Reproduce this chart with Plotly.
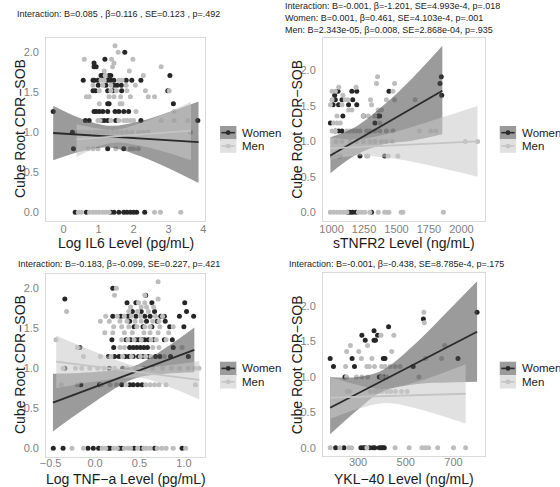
import plotly.graph_objects as go

# ---------------- data ----------------
# y levels are cube-root CDR-SOB values; each dict maps a y level -> list of x values
IL6_WOMEN = {
    2.0: [1.75], 1.913: [1.18], 1.866: [0.87], 1.817: [0.87, 0.93],
    1.71: [1.07, 1.12, 1.30, 1.35, 3.04],
    1.651: [0.56, 0.84, 0.88, 0.98, 1.26, 1.35, 1.44, 1.79, 1.95, 2.21],
    1.587: [0.99, 1.21, 1.44, 1.53, 1.65],
    1.518: [0.84, 0.91, 1.26, 1.41, 1.66, 2.98],
    1.357: [1.26, 1.30, 3.14],
    1.26: [-0.30, 0.87, 0.93, 1.02, 1.12, 1.26, 1.47, 1.58, 1.72, 1.86],
    1.145: [0.62, 0.73, 1.07, 1.16, 1.26, 1.49, 2.21, 3.84],
    1.0: [0.25],
    0.794: [0.28, 1.26, 1.72],
    0.0: [0.33, 0.65, 1.35, 1.44, 1.58, 1.72, 1.81, 1.91, 2.0, 2.09, 2.32],
}
IL6_MEN = {
    2.08: [1.47], 2.0: [1.56], 1.913: [0.59, 1.37, 1.98], 1.866: [1.44],
    1.817: [1.40, 2.79], 1.765: [1.16, 1.88], 1.71: [1.19, 2.28],
    1.651: [1.07, 1.16, 1.58, 1.67],
    1.587: [0.84, 1.12, 1.35, 1.79, 2.05],
    1.518: [1.02, 1.35, 1.51, 1.81, 2.34, 3.02],
    1.442: [0.65, 0.73, 1.30, 1.44, 1.63, 1.91, 2.42, 2.60],
    1.357: [1.02, 1.61, 1.67],
    1.26: [2.07, 3.16],
    1.145: [0.98, 1.04, 1.35, 1.58, 1.72, 1.81, 1.91, 2.0, 2.79, 3.16, 3.55],
    1.0: [0.40, 0.47, 0.56, 0.65, 0.74, 0.88, 0.98, 1.07, 1.16, 1.26, 1.40, 1.54,
          1.67, 1.81, 1.95, 2.14, 2.28, 2.42, 3.63],
    0.794: [0.70, 0.84, 0.98, 1.49, 1.91, 2.0, 2.14],
    0.0: [0.42, 0.51, 0.74, 0.84, 0.93, 1.02, 1.12, 1.21, 1.30, 2.60, 2.77, 3.35],
}
IL6_WOMEN_FIT_X = [-0.30, 3.86]
IL6_WOMEN_FIT_Y = [0.99, 0.875]
IL6_WOMEN_BAND_X = [-0.30, 0.5, 1.3, 2.2, 3.0, 3.86]
IL6_WOMEN_BAND_LO = [0.65, 0.76, 0.81, 0.70, 0.55, 0.365]
IL6_WOMEN_BAND_HI = [1.33, 1.17, 1.08, 1.14, 1.25, 1.385]
IL6_MEN_FIT_X = [0.37, 3.645]
IL6_MEN_FIT_Y = [0.91, 1.02]
IL6_MEN_BAND_X = [0.37, 1.0, 1.5, 2.3, 3.0, 3.645]
IL6_MEN_BAND_LO = [0.69, 0.82, 0.87, 0.82, 0.74, 0.65]
IL6_MEN_BAND_HI = [1.10, 1.045, 1.03, 1.13, 1.25, 1.38]

TNFR2_WOMEN = {
    1.913: [1845], 1.817: [1835], 1.71: [1050, 1156, 1194, 1442],
    1.651: [1024, 1848], 1.587: [1029, 1080, 1163],
    1.518: [1012, 1054, 1131, 1194],
    1.357: [1087, 1245, 1359, 1371], 1.26: [991, 1334],
    1.145: [1029, 1054, 1080], 0.794: [1010, 1219, 1409],
    0.0: [1125, 1143, 1163, 1189, 1308],
}
TNFR2_MEN = {
    1.913: [1354], 1.817: [1346, 1485], 1.765: [1055, 1189],
    1.71: [1004, 1029, 1473], 1.651: [1087],
    1.587: [1004, 1105, 1125, 1300, 1422, 1485, 1643],
    1.518: [991, 1080, 1308], 1.442: [1131, 1156, 1359, 1384],
    1.357: [1042, 1245, 1283, 1333], 1.26: [1016, 1042, 1067, 1371],
    1.145: [1004, 1029, 1118, 1143, 1169, 1194, 1219, 1270, 1295, 1333, 1371,
            1422, 1473, 1676, 1764, 1802],
    1.0: [1034, 1080, 1143, 1194, 1245, 1295, 1333, 1384, 1422, 1468, 2030, 2124],
    0.794: [1016, 1054, 1067, 1270, 1279, 1436, 1511],
    0.0: [991, 1016, 1042, 1067, 1092, 1118, 1207, 1232, 1257, 1295, 1359, 1409,
          1427, 1442, 1536, 1549, 1861],
}
TNFR2_WOMEN_FIT_X = [991, 1853]
TNFR2_WOMEN_FIT_Y = [0.80, 1.716]
TNFR2_WOMEN_BAND_X = [991, 1180, 1400, 1620, 1853]
TNFR2_WOMEN_BAND_LO = [0.55, 0.80, 0.96, 1.01, 1.10]
TNFR2_WOMEN_BAND_HI = [1.06, 1.20, 1.51, 1.89, 2.35]
TNFR2_MEN_FIT_X = [991, 2124]
TNFR2_MEN_FIT_Y = [0.90, 1.00]
TNFR2_MEN_BAND_X = [991, 1200, 1500, 1800, 2124]
TNFR2_MEN_BAND_LO = [0.74, 0.80, 0.75, 0.64, 0.50]
TNFR2_MEN_BAND_HI = [1.06, 1.03, 1.14, 1.31, 1.50]

TNF_WOMEN = {
    2.0: [0.20], 1.913: [0.57], 1.866: [-0.34],
    1.817: [0.36, 0.46, 0.64, 1.01],
    1.71: [0.42, 0.52, 0.67, 1.03],
    1.651: [0.20, 0.29, 0.37, 0.46, 0.56, 0.62, 0.74, 0.78, 0.95, 1.11],
    1.587: [0.39, 0.58, 0.70, 0.79],
    1.518: [0.44, 0.54, 0.64, 0.84, 1.0],
    1.357: [0.19, 0.35, 0.40, 0.46, 0.49, 0.53, 0.56, 0.60, 0.66, 0.78, 0.87],
    1.26: [-0.17, 0.21, 0.39, 0.43, 0.47, 0.51, 0.55, 0.59, 0.88],
    1.145: [0.15, 0.22, 0.27, 0.34, 0.38, 0.43, 0.49, 0.54, 0.60, 0.68, 0.73, 0.85, 1.05],
    1.0: [-0.34, 0.16, 0.31],
    0.794: [-0.16, 0.05, 0.30, 0.39, 0.43, 0.48, 0.53],
    0.0: [-0.47, -0.36, -0.08, -0.02, 0.04, 0.15, 0.17, 0.27, 0.30, 0.44, 0.52, 0.67, 0.98],
}
TNF_MEN = {
    2.08: [0.71], 2.0: [0.24], 1.913: [0.22, 0.56], 1.866: [0.71],
    1.817: [0.49, 0.56], 1.765: [0.40, 0.52, 0.58, 0.66],
    1.71: [-0.32, 0.38, 0.48, 0.60],
    1.651: [0.12, 0.25, 0.33, 0.41, 0.51, 0.68, 0.76],
    1.587: [0.06, 0.16, 0.28, 0.36, 0.45, 0.52, 0.65, 0.72],
    1.518: [0.21, 0.30, 0.38, 0.47, 0.56, 0.62, 0.73, 0.88],
    1.442: [0.11, 0.20, 0.33, 0.42, 0.55, 0.62, 0.71, 0.83],
    1.357: [-0.44, 0.30, 0.37, 0.44, 0.52, 0.63, 0.69, 0.80],
    1.26: [-0.20, 0.28, 0.33, 0.65, 0.72, 0.98],
    1.145: [-0.13, 0.06, 0.18, 0.31, 0.41, 0.51, 0.57, 0.63, 0.78],
    1.0: [-0.36, -0.22, -0.15, -0.06, 0.03, 0.10, 0.22, 0.36, 0.46, 0.55, 0.65,
          0.76, 0.86, 0.95, 1.05, 1.12, 1.17],
    0.794: [-0.38, -0.20, 0.07, 0.17, 0.24, 0.35, 0.57, 0.62, 0.67, 0.72, 0.80, 1.13],
    0.0: [-0.26, -0.13, 0.08, 0.12, 0.21, 0.25, 0.33, 0.37, 0.40, 0.48, 0.55, 0.58,
          0.62, 0.70, 0.75, 0.80, 0.88, 1.02],
}
TNF_WOMEN_FIT_X = [-0.474, 1.118]
TNF_WOMEN_FIT_Y = [0.57, 1.229]
TNF_WOMEN_BAND_X = [-0.474, -0.1, 0.43, 0.8, 1.118]
TNF_WOMEN_BAND_LO = [0.21, 0.505, 0.864, 0.93, 0.95]
TNF_WOMEN_BAND_HI = [0.93, 0.945, 1.024, 1.26, 1.51]
TNF_MEN_FIT_X = [-0.437, 1.174]
TNF_MEN_FIT_Y = [1.083, 0.854]
TNF_MEN_BAND_X = [-0.437, 0.0, 0.5, 0.85, 1.174]
TNF_MEN_BAND_LO = [0.75, 0.835, 0.88, 0.76, 0.61]
TNF_MEN_BAND_HI = [1.41, 1.207, 1.02, 1.04, 1.09]

YKL_WOMEN = {
    1.913: [799], 1.817: [574], 1.71: [428], 1.651: [367],
    1.587: [316, 382], 1.518: [330, 367, 373],
    1.26: [183, 275, 406, 413, 719],
    1.145: [197, 285, 531], 1.0: [245, 389, 396, 409],
    0.0: [206, 241, 312, 322, 330, 349, 363, 370, 389, 397, 404, 410],
}
YKL_MEN = {
    1.913: [576], 1.765: [578], 1.587: [396, 450],
    1.442: [268, 340, 663], 1.357: [252, 303, 441],
    1.26: [314, 358, 583, 650],
    1.145: [248, 337, 347, 369, 399, 413, 434, 455, 476],
    1.0: [252, 293, 316, 340, 399, 420, 555],
    0.794: [255, 264, 351, 372, 383, 399, 420, 437, 457, 482, 506],
    0.0: [183, 224, 262, 273, 337, 455, 514, 568, 582, 596, 634, 700, 751],
}
YKL_WOMEN_FIT_X = [183, 799]
YKL_WOMEN_FIT_Y = [0.565, 1.638]
YKL_WOMEN_BAND_X = [183, 300, 400, 550, 680, 799]
YKL_WOMEN_BAND_LO = [0.19, 0.54, 0.79, 0.90, 0.92, 0.93]
YKL_WOMEN_BAND_HI = [1.00, 1.00, 1.09, 1.50, 1.94, 2.35]
YKL_MEN_FIT_X = [185, 751]
YKL_MEN_FIT_Y = [0.706, 0.762]
YKL_MEN_BAND_X = [185, 300, 414, 550, 751]
YKL_MEN_BAND_LO = [0.41, 0.547, 0.63, 0.55, 0.34]
YKL_MEN_BAND_HI = [1.0, 0.887, 0.83, 0.935, 1.18]

Y_TICKS = [0.0, 0.5, 1.0, 1.5, 2.0]
Y_TICK_TEXT = ["0.0", "0.5", "1.0", "1.5", "2.0"]
X_TICKS = [[0, 1, 2, 3, 4], [1000, 1250, 1500, 1750, 2000], [-0.5, 0.0, 0.5, 1.0], [300, 500, 700]]
X_TICK_TEXT = [["0", "1", "2", "3", "4"], ["1000", "1250", "1500", "1750", "2000"],
               ["\u22120.5", "0.0", "0.5", "1.0"], ["300", "500", "700"]]
X_TITLES = ["Log IL6 Level (pg/mL)", "sTNFR2 Level (ng/mL)",
            "Log TNF\u2212a Level (pg/mL)", "YKL\u221240 Level (ng/mL)"]
Y_TITLE = "Cube Root CDR\u2212SOB"
TITLES = [
    ["Interaction: B=0.085 , \u03b2=0.116 , SE=0.123 , p=.492"],
    ["Interaction: B=-0.001, \u03b2=-1.201, SE=4.993e-4, p=.018",
     "Women: B=0.001, \u03b2=0.461, SE=4.103e-4, p=.001",
     "Men: B=2.343e-05, \u03b2=0.008, SE=2.868e-04, p=.935"],
    ["Interaction: B=-0.183, \u03b2=-0.099, SE=0.227, p=.421"],
    ["Interaction: B=-0.001, \u03b2=-0.438, SE=8.785e-4, p=.175"],
]
GROUPS = ["Women", "Men"]

# ---------------- styling / layout ----------------
W, H = 560, 487
FONT = "Liberation Sans, Arial, Helvetica, sans-serif"
WOMEN_PT, MEN_PT = "#262626", "#bdbdbd"
WOMEN_LINE, MEN_LINE = "#2b2b2b", "#c4c4c4"
WOMEN_FILL, MEN_FILL = "rgba(73,73,73,0.55)", "rgba(200,200,200,0.55)"
WOMEN_KEY, MEN_KEY = "#9b9b9b", "#e1e1e1"


def fx(p):
    return p / W


def fy(p):
    return 1 - p / H


# pixel boxes of the four panels: (left, right, top, bottom)
BOXES = [(40.7, 201.7, 37.5, 220.5), (321, 485, 37.5, 220.5),
         (40.7, 201.7, 273.5, 456.5), (321, 485, 273, 456)]
XRANGES = [[-0.5, 4.05], [934, 2181], [-0.55, 1.24], [153, 832]]
YRANGES = [[-0.104, 2.184], [-0.1175, 2.4675], [-0.104, 2.184], [-0.1175, 2.4675]]
TITLE_POS = [("center", 113.5, [14]), ("left", 281, [6.5, 18, 29.5]),
             ("center", 114, [263.5]), ("center", 395, [264])]
XTITLE_Y = [243, 243, 479, 479]
XTICK_STANDOFF = [-2, -2, -4, -4]
LEGEND_TOP = [126, 126, 361.7, 361.7]

panels = [
    (IL6_WOMEN, IL6_MEN, IL6_WOMEN_FIT_X, IL6_WOMEN_FIT_Y, IL6_WOMEN_BAND_X, IL6_WOMEN_BAND_LO, IL6_WOMEN_BAND_HI,
     IL6_MEN_FIT_X, IL6_MEN_FIT_Y, IL6_MEN_BAND_X, IL6_MEN_BAND_LO, IL6_MEN_BAND_HI),
    (TNFR2_WOMEN, TNFR2_MEN, TNFR2_WOMEN_FIT_X, TNFR2_WOMEN_FIT_Y, TNFR2_WOMEN_BAND_X, TNFR2_WOMEN_BAND_LO,
     TNFR2_WOMEN_BAND_HI, TNFR2_MEN_FIT_X, TNFR2_MEN_FIT_Y, TNFR2_MEN_BAND_X, TNFR2_MEN_BAND_LO, TNFR2_MEN_BAND_HI),
    (TNF_WOMEN, TNF_MEN, TNF_WOMEN_FIT_X, TNF_WOMEN_FIT_Y, TNF_WOMEN_BAND_X, TNF_WOMEN_BAND_LO, TNF_WOMEN_BAND_HI,
     TNF_MEN_FIT_X, TNF_MEN_FIT_Y, TNF_MEN_BAND_X, TNF_MEN_BAND_LO, TNF_MEN_BAND_HI),
    (YKL_WOMEN, YKL_MEN, YKL_WOMEN_FIT_X, YKL_WOMEN_FIT_Y, YKL_WOMEN_BAND_X, YKL_WOMEN_BAND_LO, YKL_WOMEN_BAND_HI,
     YKL_MEN_FIT_X, YKL_MEN_FIT_Y, YKL_MEN_BAND_X, YKL_MEN_BAND_LO, YKL_MEN_BAND_HI),
]


def expand(d):
    xs, ys = [], []
    for yv, xl in d.items():
        for xv in xl:
            xs.append(xv)
            ys.append(yv)
    return xs, ys


fig = go.Figure()
shapes, annotations = [], []

for i, (wpts, mpts, wfx, wfy, wbx, wblo, wbhi, mfx, mfy, mbx, mblo, mbhi) in enumerate(panels):
    n = "" if i == 0 else str(i + 1)
    xa, ya = "x" + n, "y" + n
    # points
    for pts, col, name in [(wpts, WOMEN_PT, "Women"), (mpts, MEN_PT, "Men")]:
        xs, ys = expand(pts)
        fig.add_trace(go.Scatter(x=xs, y=ys, mode="markers", name=name, showlegend=False,
                                 marker=dict(size=5, color=col, line=dict(width=0)),
                                 xaxis=xa, yaxis=ya, hoverinfo="skip"))
    # confidence bands
    for bx, lo, hi, fill in [(wbx, wblo, wbhi, WOMEN_FILL), (mbx, mblo, mbhi, MEN_FILL)]:
        fig.add_trace(go.Scatter(x=bx, y=lo, mode="lines", line=dict(width=0, shape="spline"),
                                 showlegend=False, xaxis=xa, yaxis=ya, hoverinfo="skip"))
        fig.add_trace(go.Scatter(x=bx, y=hi, mode="lines", line=dict(width=0, shape="spline"),
                                 fill="tonexty", fillcolor=fill, showlegend=False,
                                 xaxis=xa, yaxis=ya, hoverinfo="skip"))
    # fitted lines
    for lx, ly, col in [(wfx, wfy, WOMEN_LINE), (mfx, mfy, MEN_LINE)]:
        fig.add_trace(go.Scatter(x=lx, y=ly, mode="lines", line=dict(width=1.8, color=col),
                                 showlegend=False, xaxis=xa, yaxis=ya, hoverinfo="skip"))

    l, r, t, b = BOXES[i]
    common = dict(showgrid=False, zeroline=False, showline=True, mirror=True,
                  linecolor="#d9d9d9", linewidth=1,
                  tickfont=dict(family=FONT, size=11, color="#7f7f7f"))
    fig.layout["xaxis" + n] = dict(domain=[fx(l), fx(r)], range=XRANGES[i], anchor=ya,
                                   tickvals=X_TICKS[i], ticktext=X_TICK_TEXT[i],
                                   ticks="", ticklabelstandoff=XTICK_STANDOFF[i], **common)
    fig.layout["yaxis" + n] = dict(domain=[fy(b), fy(t)], range=YRANGES[i], anchor=xa,
                                   tickvals=Y_TICKS, ticktext=Y_TICK_TEXT,
                                   ticks="outside", ticklen=4, tickcolor="rgba(0,0,0,0)", **common)

    # axis titles
    annotations.append(dict(text=X_TITLES[i], x=fx((l + r) / 2), y=fy(XTITLE_Y[i]), xref="paper",
                            yref="paper", showarrow=False, xanchor="center", yanchor="middle",
                            font=dict(family=FONT, size=14, color="#1a1a1a")))
    annotations.append(dict(text=Y_TITLE, x=fx(l - 26.5), y=fy((t + b) / 2), xref="paper",
                            yref="paper", showarrow=False, xanchor="center", yanchor="middle",
                            textangle=-90, font=dict(family=FONT, size=14, color="#1a1a1a")))
    # panel titles
    anch, tx, tys = TITLE_POS[i]
    for line, ty in zip(TITLES[i], tys):
        annotations.append(dict(text=line, x=fx(tx), y=fy(ty), xref="paper", yref="paper",
                                showarrow=False, xanchor=anch, yanchor="middle",
                                font=dict(family=FONT, size=9, color="#1a1a1a")))
    # legend (drawn like ggplot keys)
    kl, kr = r + 15, r + 31.6
    top = LEGEND_TOP[i]
    for k, (grp, kfill, kline) in enumerate([(GROUPS[0], WOMEN_KEY, WOMEN_LINE), (GROUPS[1], MEN_KEY, MEN_LINE)]):
        y0 = top + k * 13.4
        y1 = y0 + 13.4
        ym = (y0 + y1) / 2
        shapes.append(dict(type="rect", xref="paper", yref="paper", x0=fx(kl), x1=fx(kr),
                           y0=fy(y1), y1=fy(y0), fillcolor=kfill, line=dict(width=0), layer="above"))
        shapes.append(dict(type="line", xref="paper", yref="paper", x0=fx(kl + 1.5), x1=fx(kr - 1.5),
                           y0=fy(ym), y1=fy(ym), line=dict(color=kline, width=1.6), layer="above"))
        cx = (kl + kr) / 2
        shapes.append(dict(type="circle", xref="paper", yref="paper", x0=fx(cx - 2.4), x1=fx(cx + 2.4),
                           y0=fy(ym + 2.4), y1=fy(ym - 2.4), fillcolor=kline,
                           line=dict(width=0), layer="above"))
        annotations.append(dict(text=grp, x=fx(kr + 4), y=fy(ym), xref="paper", yref="paper",
                                showarrow=False, xanchor="left", yanchor="middle",
                                font=dict(family=FONT, size=11.5, color="#1a1a1a")))

fig.update_layout(width=W, height=H, margin=dict(l=0, r=0, t=0, b=0),
                  paper_bgcolor="white", plot_bgcolor="white", showlegend=False,
                  shapes=shapes, annotations=annotations, font=dict(family=FONT))
fig.write_html("out.html", config={"displayModeBar": False},
               post_script="document.body.style.margin='0px';document.body.style.overflow='hidden';")
